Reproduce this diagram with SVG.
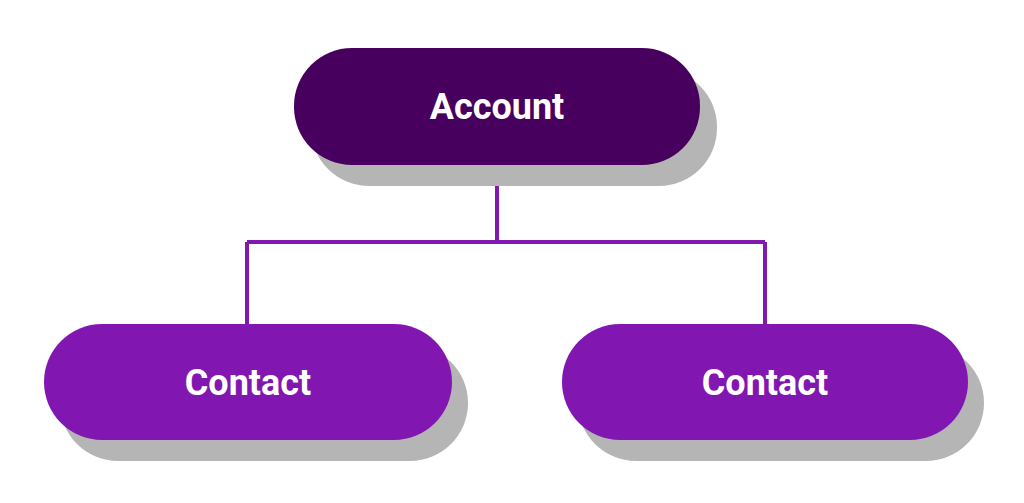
<svg xmlns="http://www.w3.org/2000/svg" width="1024" height="503" viewBox="0 0 1024 503">
<style>
.shadow{fill:#b5b5b5}
.lbl{font-family:Roboto,"Liberation Sans",sans-serif;font-weight:bold;fill:#ffffff;text-anchor:middle;font-size:36px}
.conn{fill:none;stroke:#8118b0;stroke-width:4}
</style>
<rect width="1024" height="503" fill="#ffffff"/>
<g id="connectors">
<path class="conn" d="M497 165 V242 M247 242 H765 M247 242 V324 M765 242 V324"/>
</g>
<g id="account">
<rect class="shadow" x="311" y="69" width="406" height="117" rx="58"/>
<rect x="294" y="48" width="406" height="117" rx="58" fill="#48005e"/>
<text class="lbl" x="497" y="119">Account</text>
</g>
<g id="contact1">
<rect class="shadow" x="60" y="345" width="408" height="116" rx="58"/>
<rect x="44" y="324" width="408" height="116" rx="58" fill="#8216b0"/>
<text class="lbl" x="248" y="395">Contact</text>
</g>
<g id="contact2">
<rect class="shadow" x="578" y="345" width="406" height="116" rx="58"/>
<rect x="562" y="324" width="406" height="116" rx="58" fill="#8216b0"/>
<text class="lbl" x="765" y="395">Contact</text>
</g>
</svg>
